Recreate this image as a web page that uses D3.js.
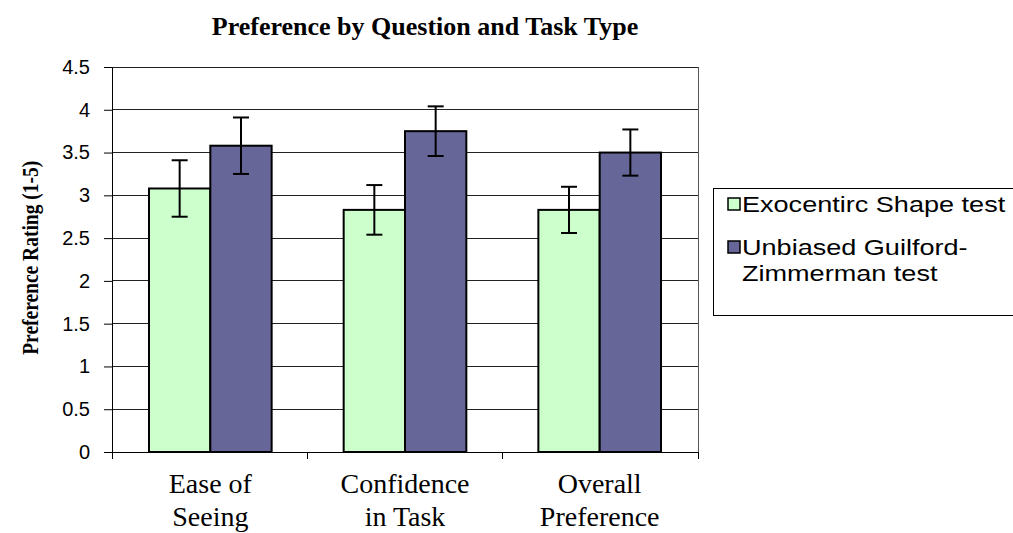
<!DOCTYPE html>
<html>
<head>
<meta charset="utf-8">
<script src="https://cdn.jsdelivr.net/npm/d3@7"></script>
<style>
  body { margin: 0; background: #fff; }
  svg { display: block; }
</style>
</head>
<body>
<div id="chart"></div>
<script>
var categories = [["Ease of", "Seeing"], ["Confidence", "in Task"], ["Overall", "Preference"]];
var seriesNames = ["Exocentirc Shape test", "Unbiased Guilford-Zimmerman test"];
var exocentric = [3.08, 2.83, 2.83];
var exocentricErr = [0.33, 0.29, 0.27];
var unbiased = [3.58, 3.75, 3.50];
var unbiasedErr = [0.33, 0.29, 0.27];
var yTicks = [0, 0.5, 1, 1.5, 2, 2.5, 3, 3.5, 4, 4.5];

var width = 1013, height = 533;
var margin = { left: 112, right: 315, top: 67, bottom: 81 };
var colors = ["#ccffcc", "#666699"];
var serif = "Liberation Serif, Times New Roman, serif";
var sans = "Liberation Sans, Arial, sans-serif";

var svg = d3.select("#chart").append("svg")
  .attr("width", width)
  .attr("height", height);

var x = d3.scaleBand()
  .domain(d3.range(categories.length))
  .range([margin.left, width - margin.right])
  .paddingInner(0.37)
  .paddingOuter(0.19);

var xSub = d3.scaleBand()
  .domain([0, 1])
  .range([0, x.bandwidth()]);

var y = d3.scaleLinear()
  .domain([0, 4.5])
  .range([height - margin.bottom, margin.top]);

// gridlines
svg.append("g").selectAll("line")
  .data(yTicks.filter((d) => d > 0))
  .join("line")
  .attr("x1", margin.left)
  .attr("x2", width - margin.right)
  .attr("y1", (d) => y(d))
  .attr("y2", (d) => y(d))
  .attr("stroke", "#222")
  .attr("stroke-width", 1)
  .attr("shape-rendering", "crispEdges");

// right border of plot area
svg.append("line")
  .attr("x1", width - margin.right).attr("x2", width - margin.right)
  .attr("y1", margin.top).attr("y2", height - margin.bottom)
  .attr("stroke", "#555")
  .attr("shape-rendering", "crispEdges");

var series = [
  { values: exocentric, err: exocentricErr },
  { values: unbiased, err: unbiasedErr }
];

var groups = svg.append("g").selectAll("g")
  .data(series)
  .join("g");

groups.selectAll("rect")
  .data((s, si) => s.values.map((v, i) => ({ v: v, i: i, si: si })))
  .join("rect")
  .attr("x", (d) => x(d.i) + xSub(d.si))
  .attr("y", (d) => y(d.v))
  .attr("width", xSub.bandwidth())
  .attr("height", (d) => y(0) - y(d.v))
  .attr("fill", (d) => colors[d.si])
  .attr("stroke", "#000")
  .attr("stroke-width", 2);

// error bars
var errData = [];
series.forEach((s, si) => {
  s.values.forEach((v, i) => {
    errData.push({ cx: x(i) + xSub(si) + xSub.bandwidth() / 2, lo: v - s.err[i], hi: v + s.err[i] });
  });
});

var eb = svg.append("g").selectAll("g")
  .data(errData)
  .join("g")
  .attr("stroke", "#000")
  .attr("stroke-width", 2);

eb.append("line")
  .attr("x1", (d) => d.cx).attr("x2", (d) => d.cx)
  .attr("y1", (d) => y(d.hi)).attr("y2", (d) => y(d.lo));
eb.append("line")
  .attr("x1", (d) => d.cx - 8).attr("x2", (d) => d.cx + 8)
  .attr("y1", (d) => y(d.hi)).attr("y2", (d) => y(d.hi));
eb.append("line")
  .attr("x1", (d) => d.cx - 8).attr("x2", (d) => d.cx + 8)
  .attr("y1", (d) => y(d.lo)).attr("y2", (d) => y(d.lo));

// y axis
var yAxis = svg.append("g")
  .attr("transform", "translate(" + margin.left + ",0)")
  .call(d3.axisLeft(y).tickValues(yTicks).tickSize(8).tickPadding(14).tickFormat((d) => d));
yAxis.select(".domain").attr("stroke", "#000");
yAxis.selectAll(".tick line").attr("stroke", "#000");
yAxis.selectAll("text")
  .attr("font-family", sans)
  .attr("font-size", 20)
  .attr("fill", "#000");

// x axis
var xAxisY = height - margin.bottom;
svg.append("line")
  .attr("x1", margin.left).attr("x2", width - margin.right)
  .attr("y1", xAxisY).attr("y2", xAxisY)
  .attr("stroke", "#000")
  .attr("shape-rendering", "crispEdges");

var step = (width - margin.right - margin.left) / categories.length;
svg.append("g").selectAll("line")
  .data(d3.range(categories.length + 1))
  .join("line")
  .attr("x1", (d) => margin.left + d * step)
  .attr("x2", (d) => margin.left + d * step)
  .attr("y1", xAxisY)
  .attr("y2", xAxisY + 7)
  .attr("stroke", "#000")
  .attr("shape-rendering", "crispEdges");

var xLabels = svg.append("g").selectAll("text")
  .data(categories)
  .join("text")
  .attr("x", (d, i) => x(i) + x.bandwidth() / 2)
  .attr("y", 493)
  .attr("text-anchor", "middle")
  .attr("font-family", serif)
  .attr("font-size", 28)
  .attr("fill", "#000");
xLabels.append("tspan").text((d) => d[0]);
xLabels.append("tspan")
  .attr("x", (d, i) => x(i) + x.bandwidth() / 2)
  .attr("dy", 33)
  .text((d) => d[1]);

// title
svg.append("text")
  .attr("x", 425)
  .attr("y", 35)
  .attr("text-anchor", "middle")
  .attr("font-family", serif)
  .attr("font-weight", "bold")
  .attr("font-size", 26)
  .text("Preference by Question and Task Type");

// y axis title
svg.append("text")
  .attr("transform", "translate(38," + y(2.27) + ") rotate(-90)")
  .attr("text-anchor", "middle")
  .attr("font-family", serif)
  .attr("font-weight", "bold")
  .attr("font-size", 23)
  .attr("textLength", 194)
  .attr("lengthAdjust", "spacingAndGlyphs")
  .text("Preference Rating (1-5)");

// legend
var legend = svg.append("g");
legend.append("rect")
  .attr("x", 713.5).attr("y", 188.5)
  .attr("width", 320).attr("height", 127)
  .attr("fill", "#fff")
  .attr("stroke", "#000");

var legendRows = [[seriesNames[0]], ["Unbiased Guilford-", "Zimmerman test"]];
var legendY = [204, 247];
legendRows.forEach((lines, i) => {
  legend.append("rect")
    .attr("x", 728).attr("y", legendY[i] - 6)
    .attr("width", 12).attr("height", 12)
    .attr("fill", colors[i])
    .attr("stroke", "#000")
    .attr("stroke-width", 1.5);
  var t = legend.append("g")
    .attr("transform", "translate(742," + (legendY[i] + 8) + ") scale(1.23,1)")
    .append("text")
    .attr("font-family", sans)
    .attr("font-size", 22)
    .attr("fill", "#000");
  lines.forEach((l, j) => {
    t.append("tspan").attr("x", 0).attr("dy", j === 0 ? 0 : 26).text(l);
  });
});
</script>
</body>
</html>
